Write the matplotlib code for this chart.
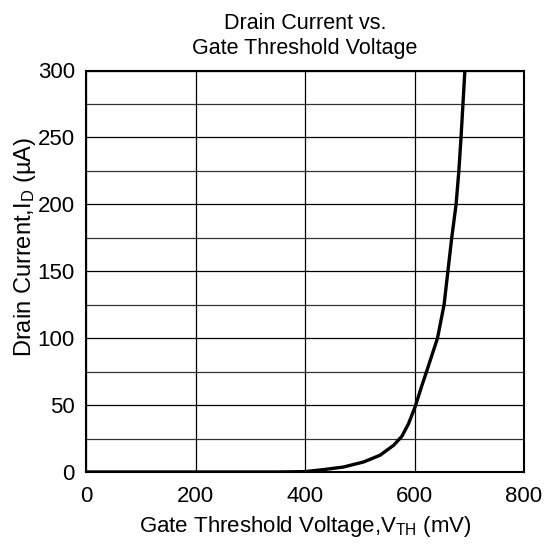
import matplotlib
matplotlib.use("Agg")
import matplotlib.pyplot as plt

plt.rcParams['font.family'] = ['Liberation Sans', 'DejaVu Sans']
plt.rcParams['mathtext.fontset'] = 'custom'
plt.rcParams['mathtext.rm'] = 'Liberation Sans'
plt.rcParams['mathtext.it'] = 'Liberation Sans'

# Data
vth_mv = [0, 100, 200, 300, 350, 400, 434, 470, 507, 537, 562, 577, 589, 601,
          613, 622, 630, 642, 654, 661, 668, 676, 681, 685, 688.5, 692]
id_ua = [0, 0, 0, 0, 0, 0.3, 1.8, 3.7, 7.5, 12.5, 20, 26.7, 36, 48.6,
         64, 75, 85, 100, 125, 150, 175, 200, 225, 250, 275, 300]

x_ticks = [0, 200, 400, 600, 800]
y_ticks = [0, 50, 100, 150, 200, 250, 300]
y_minor = [25, 75, 125, 175, 225, 275]

title = "Drain Current vs.\nGate Threshold Voltage"
xlabel = "Gate Threshold Voltage,V$_\\mathregular{TH}$ (mV)"
ylabel = "Drain Current,I$_\\mathregular{D}$ (µA)"

fig = plt.figure(figsize=(5.44, 5.44), dpi=100)
ax = fig.add_axes([86/544, 1 - 472/544, (524-86)/544, (472-70.5)/544])

ax.set_xlim(0, 800)
ax.set_ylim(0, 300)
ax.set_xticks(x_ticks)
ax.set_yticks(y_ticks)
ax.set_yticks(y_minor, minor=True)
ax.grid(True, which='major', color='black', linewidth=0.9)
ax.grid(True, which='minor', axis='y', color='#333333', linewidth=0.9)
ax.tick_params(axis='both', which='both', length=0, labelsize=16)
ax.tick_params(axis='x', pad=10)
ax.tick_params(axis='y', pad=8)
for s in ax.spines.values():
    s.set_linewidth(1.5)
    s.set_color('black')

ax.plot(vth_mv, id_ua, color='black', linewidth=2.4, solid_capstyle='butt',
        solid_joinstyle='round', clip_on=True, zorder=3)

ax.set_title(title, fontsize=15.5, linespacing=1.25, pad=12)
ax.set_xlabel(xlabel, fontsize=16, labelpad=5)
ax.set_ylabel(ylabel, fontsize=17)
ax.yaxis.set_label_coords(-0.11, 0.56)

fig.savefig("out.png", dpi=100)
